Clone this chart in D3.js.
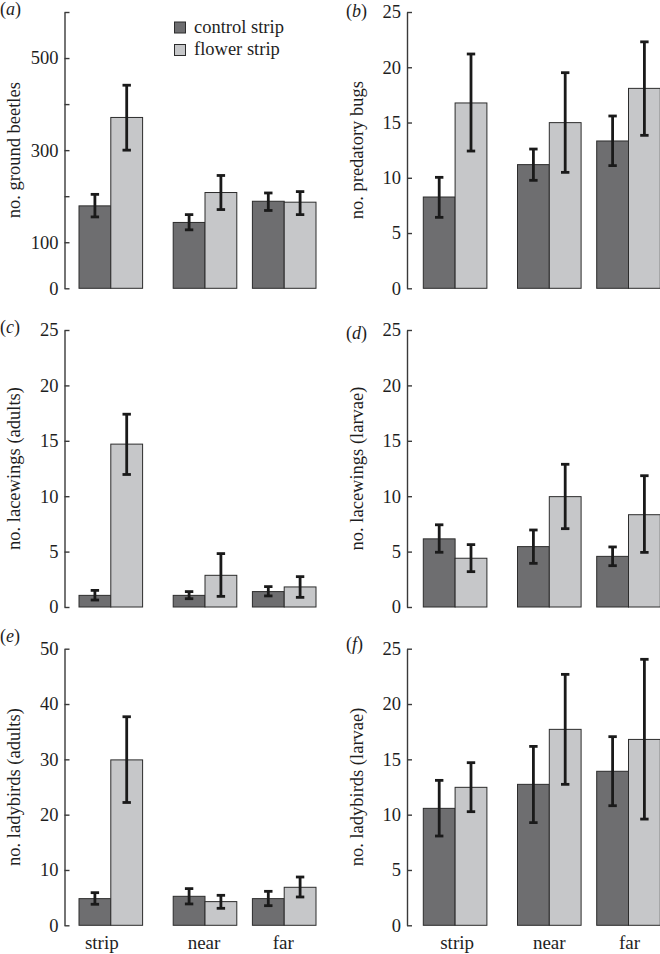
<!DOCTYPE html>
<html><head><meta charset="utf-8">
<script src="https://cdn.jsdelivr.net/npm/d3@7/dist/d3.min.js"></script>
<style>
html,body{margin:0;padding:0;background:#fff;}
svg{display:block;}
svg text{font-family:"Liberation Serif","DejaVu Serif","Times New Roman",Times,serif !important;}
</style></head>
<body>
<svg id="chart" width="660" height="954"></svg>
<script>
// ---- data ----
const sites = ["strip", "near", "far"];
const treatments = ["control strip", "flower strip"];
const panelLetters = ["a", "b", "c", "d", "e", "f"];
const yTitles = ["no. ground beetles", "no. predatory bugs", "no. lacewings (adults)",
  "no. lacewings (larvae)", "no. ladybirds (adults)", "no. ladybirds (larvae)"];
const yMaxima = [600, 25, 25, 25, 50, 25];
const yTickSteps = [100, 5, 5, 5, 10, 5];
const beetleTickLabels = [0, 100, 300, 500];

const beetlesControl = [179, 143, 189];
const beetlesControlHi = [204, 160, 207];
const beetlesControlLo = [155, 127, 169];
const beetlesFlower = [371, 208, 187];
const beetlesFlowerHi = [441, 245, 210];
const beetlesFlowerLo = [300, 171, 160];

const bugsControl = [8.26, 11.19, 13.33];
const bugsControlHi = [10.04, 12.6, 15.59];
const bugsControlLo = [6.42, 9.77, 11.1];
const bugsFlower = [16.77, 14.99, 18.09];
const bugsFlowerHi = [21.2, 19.51, 22.3];
const bugsFlowerLo = [12.42, 10.49, 13.84];

const lacewingAdultControl = [1.05, 1.05, 1.39];
const lacewingAdultControlHi = [1.5, 1.39, 1.84];
const lacewingAdultControlLo = [0.63, 0.75, 1.0];
const lacewingAdultFlower = [14.7, 2.86, 1.81];
const lacewingAdultFlowerHi = [17.4, 4.82, 2.74];
const lacewingAdultFlowerLo = [11.96, 0.96, 0.87];

const lacewingLarvaeControl = [6.15, 5.45, 4.57];
const lacewingLarvaeControlHi = [7.42, 6.95, 5.42];
const lacewingLarvaeControlLo = [4.94, 3.94, 3.73];
const lacewingLarvaeFlower = [4.4, 9.96, 8.33];
const lacewingLarvaeFlowerHi = [5.63, 12.88, 11.85];
const lacewingLarvaeFlowerLo = [3.19, 7.07, 4.93];

const ladybirdAdultControl = [4.82, 5.24, 4.82];
const ladybirdAdultControlHi = [5.9, 6.63, 6.14];
const ladybirdAdultControlLo = [3.8, 3.86, 3.55];
const ladybirdAdultFlower = [29.9, 4.28, 6.87];
const ladybirdAdultFlowerHi = [37.7, 5.42, 8.73];
const ladybirdAdultFlowerLo = [22.2, 3.07, 5.12];

const ladybirdLarvaeControl = [10.57, 12.74, 13.92];
const ladybirdLarvaeControlHi = [13.1, 16.17, 17.05];
const ladybirdLarvaeControlLo = [8.07, 9.28, 10.81];
const ladybirdLarvaeFlower = [12.47, 17.71, 16.8];
const ladybirdLarvaeFlowerHi = [14.7, 22.68, 24.04];
const ladybirdLarvaeFlowerLo = [10.27, 12.74, 9.6];

const panelSeries = [
  [[beetlesControl, beetlesControlLo, beetlesControlHi], [beetlesFlower, beetlesFlowerLo, beetlesFlowerHi]],
  [[bugsControl, bugsControlLo, bugsControlHi], [bugsFlower, bugsFlowerLo, bugsFlowerHi]],
  [[lacewingAdultControl, lacewingAdultControlLo, lacewingAdultControlHi], [lacewingAdultFlower, lacewingAdultFlowerLo, lacewingAdultFlowerHi]],
  [[lacewingLarvaeControl, lacewingLarvaeControlLo, lacewingLarvaeControlHi], [lacewingLarvaeFlower, lacewingLarvaeFlowerLo, lacewingLarvaeFlowerHi]],
  [[ladybirdAdultControl, ladybirdAdultControlLo, ladybirdAdultControlHi], [ladybirdAdultFlower, ladybirdAdultFlowerLo, ladybirdAdultFlowerHi]],
  [[ladybirdLarvaeControl, ladybirdLarvaeControlLo, ladybirdLarvaeControlHi], [ladybirdLarvaeFlower, ladybirdLarvaeFlowerLo, ladybirdLarvaeFlowerHi]]
];

// ---- layout ----
const colAxisX = [64.5, 407];
const colBarX = [79, 423.3];
const rowTop = [12, 330, 648.7];
const rowZero = [288.3, 607, 925.3];
const groupOffsets = [0, 94.2, 173.4];
const barW = 31.8;
const colors = ["#6e6e70", "#c6c7c9"];
const letterBaseline = [[15, 17], [333, 339], [642, 650]];
const xLabelShift = [[-9, -1, -1], [2, 0, 1]];
const serif = "'Liberation Serif','DejaVu Serif','Times New Roman',Times,serif";

const svg = d3.select("#chart");

panelSeries.forEach((series, p) => {
  const col = p % 2, row = Math.floor(p / 2);
  const g = svg.append("g").attr("font-family", serif);
  const y = d3.scaleLinear().domain([0, yMaxima[p]]).range([rowZero[row], rowTop[row]]);
  const xGroup = d3.scaleOrdinal().domain(sites).range(groupOffsets.map(o => colBarX[col] + o));
  const xSub = d3.scaleBand().domain(treatments).range([0, barW * 2]);

  // axis
  const ticks = d3.range(0, yMaxima[p] + 1e-9, yTickSteps[p]);
  const axis = d3.axisLeft(y).tickValues(ticks).tickSizeInner(-5).tickSizeOuter(0).tickPadding(6)
    .tickFormat(d => (p === 0 && !beetleTickLabels.includes(d)) ? "" : d3.format("d")(d));
  const ag = g.append("g").attr("transform", `translate(${colAxisX[col]},0)`).call(axis)
    .attr("font-family", serif).attr("font-size", 18.5);
  ag.select(".domain").attr("stroke", "#3a3a3a").attr("stroke-width", 1.4);
  ag.selectAll(".tick line").attr("stroke", "#3a3a3a").attr("stroke-width", 1.4);
  ag.selectAll(".tick text").attr("fill", "#1e1e1e");

  // y title
  const midY = (rowTop[row] + rowZero[row]) / 2;
  const tx = col === 0 ? 19.5 : 362.5;
  g.append("text").attr("transform", `translate(${tx},${midY}) rotate(-90)`)
    .attr("text-anchor", "middle").attr("fill", "#1e1e1e").attr("font-size", 18.5)
    .text(yTitles[p]);

  // panel letter
  const lx = col === 0 ? 0 : 346;
  const lt = g.append("text").attr("x", lx).attr("y", letterBaseline[row][col])
    .attr("fill", "#1e1e1e").attr("font-size", 18);
  lt.append("tspan").text("(");
  lt.append("tspan").attr("font-style", "italic").text(panelLetters[p]);
  lt.append("tspan").text(")");

  // bars
  series.forEach((s, t) => {
    const [mean, lo, hi] = s;
    sites.forEach((site, i) => {
      const x0 = xGroup(site) + xSub(treatments[t]);
      g.append("rect").attr("x", x0).attr("y", y(mean[i]))
        .attr("width", xSub.bandwidth()).attr("height", y(0) - y(mean[i]))
        .attr("fill", colors[t]).attr("stroke", "#2c2c2c").attr("stroke-width", 1);
    });
  });
  // error bars
  series.forEach((s, t) => {
    const [mean, lo, hi] = s;
    sites.forEach((site, i) => {
      const cx = xGroup(site) + xSub(treatments[t]) + xSub.bandwidth() / 2;
      const eg = g.append("g").attr("stroke", "#1a1a1a").attr("stroke-width", 2.8);
      eg.append("line").attr("x1", cx).attr("x2", cx).attr("y1", y(hi[i])).attr("y2", y(lo[i]));
      [hi[i], lo[i]].forEach(v => {
        eg.append("line").attr("x1", cx - 4.2).attr("x2", cx + 4.2).attr("y1", y(v)).attr("y2", y(v));
      });
    });
  });

  // x labels on bottom row
  if (row === 2) {
    sites.forEach((site, i) => {
      g.append("text").attr("x", xGroup(site) + barW + xLabelShift[col][i]).attr("y", 949)
        .attr("text-anchor", "middle").attr("fill", "#1e1e1e").attr("font-size", 19).text(site);
    });
  }

  // legend in panel a
  if (p === 0) {
    treatments.forEach((tr, t) => {
      const ly = 22 + t * 22.5;
      g.append("rect").attr("x", 174.5).attr("y", ly).attr("width", 11).attr("height", 11)
        .attr("fill", colors[t]).attr("stroke", "#2c2c2c").attr("stroke-width", 1);
      g.append("text").attr("x", 194).attr("y", ly + 10.5).attr("fill", "#1e1e1e")
        .attr("font-size", 18.5).text(tr);
    });
  }
});
</script>
</body></html>
